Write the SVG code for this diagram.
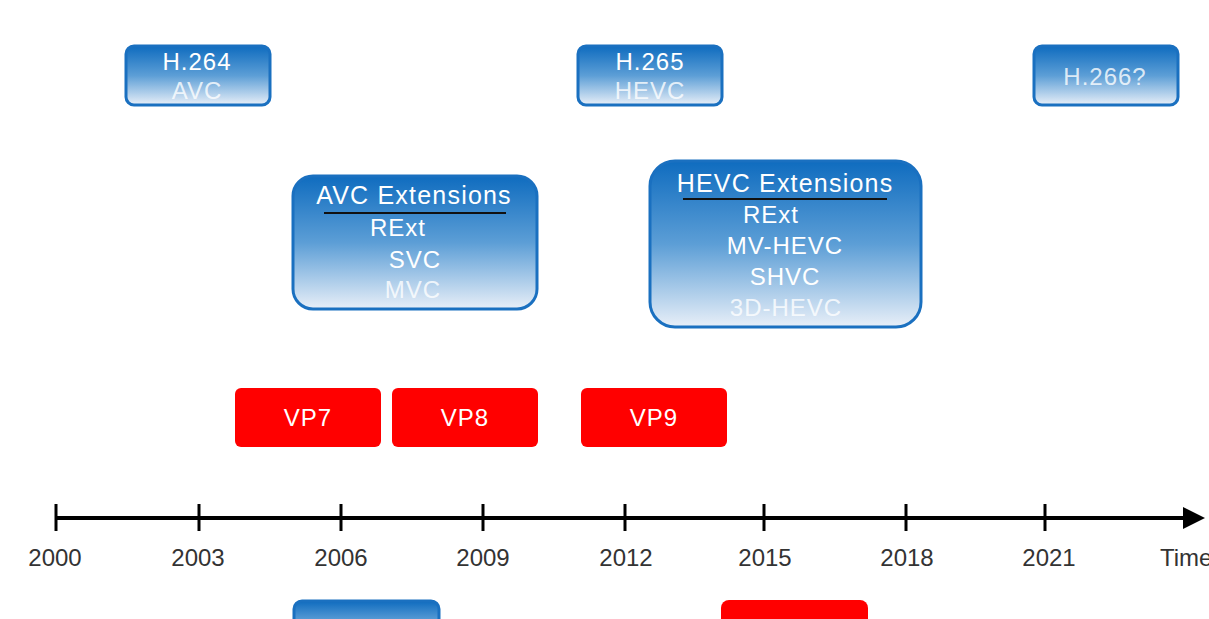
<svg xmlns="http://www.w3.org/2000/svg" width="1209" height="619" viewBox="0 0 1209 619">
<defs>
<linearGradient id="bg" x1="0" y1="0" x2="0" y2="1">
<stop offset="0" stop-color="#0f6cbf"/>
<stop offset="0.5" stop-color="#5c9ed6"/>
<stop offset="1" stop-color="#e8eff8"/>
</linearGradient>
</defs>
<style>
.b{fill:url(#bg);stroke:#1a70c0;stroke-width:3}
.r{fill:#ff0000}
text{font-family:"Liberation Sans",Arial,sans-serif}
.t{fill:#fff;font-size:24px;text-anchor:middle;letter-spacing:1px}
.h{font-size:25px;letter-spacing:1.2px}
.f{fill:#fff;fill-opacity:0.8}
.ax{fill:#333;font-size:24px;text-anchor:middle}
.st{text-anchor:start}
.tk{stroke:#000;stroke-width:3}
</style>
<rect width="1209" height="619" fill="#fff"/>
<g id="h264"><rect class="b" x="126" y="46" width="144" height="59" rx="8"/><text class="t" x="197" y="70">H.264</text><text class="t f" x="197" y="99">AVC</text></g>
<g id="h265"><rect class="b" x="578" y="46" width="144" height="59" rx="8"/><text class="t" x="650" y="70">H.265</text><text class="t f" x="650" y="99">HEVC</text></g>
<g id="h266"><rect class="b" x="1034" y="46" width="144" height="59" rx="8"/><text class="t f" x="1105" y="85">H.266?</text></g>
<g id="avcext"><rect class="b" x="293" y="176" width="244" height="133" rx="20"/>
<text class="t h" x="414" y="204">AVC Extensions</text>
<line x1="324" y1="213" x2="506" y2="213" stroke="#111" stroke-width="2"/>
<text class="t" x="398" y="236">RExt</text>
<text class="t" x="415" y="268">SVC</text>
<text class="t f" x="413" y="298">MVC</text></g>
<g id="hevcext"><rect class="b" x="650" y="161" width="271" height="166" rx="25"/>
<text class="t h" x="785" y="192">HEVC Extensions</text>
<line x1="683" y1="199" x2="887" y2="199" stroke="#111" stroke-width="2"/>
<text class="t" x="771" y="223">RExt</text>
<text class="t" x="785" y="254">MV-HEVC</text>
<text class="t" x="785" y="285">SHVC</text>
<text class="t f" x="786" y="316">3D-HEVC</text></g>
<g id="vp7"><rect class="r" x="235" y="388" width="146" height="59" rx="6"/><text class="t" x="308" y="426">VP7</text></g>
<g id="vp8"><rect class="r" x="392" y="388" width="146" height="59" rx="6"/><text class="t" x="465" y="426">VP8</text></g>
<g id="vp9"><rect class="r" x="581" y="388" width="146" height="59" rx="6"/><text class="t" x="654" y="426">VP9</text></g>
<g id="bottom-blue"><rect class="b" x="294" y="601" width="145" height="40" rx="8"/></g>
<g id="bottom-red"><rect class="r" x="721" y="600" width="147" height="40" rx="8"/></g>
<g id="connectors">
<line x1="55" y1="518" x2="1185" y2="518" stroke="#000" stroke-width="4"/>
<path d="M1183,507 L1205,518 L1183,529 z" fill="#000"/>
<line class="tk" x1="56" y1="504" x2="56" y2="531"/>
<line class="tk" x1="199" y1="504" x2="199" y2="531"/>
<line class="tk" x1="341" y1="504" x2="341" y2="531"/>
<line class="tk" x1="483" y1="504" x2="483" y2="531"/>
<line class="tk" x1="625" y1="504" x2="625" y2="531"/>
<line class="tk" x1="764" y1="504" x2="764" y2="531"/>
<line class="tk" x1="906" y1="504" x2="906" y2="531"/>
<line class="tk" x1="1045" y1="504" x2="1045" y2="531"/>
</g>
<g id="axis-labels">
<text class="ax" x="55" y="566">2000</text>
<text class="ax" x="198" y="566">2003</text>
<text class="ax" x="341" y="566">2006</text>
<text class="ax" x="483" y="566">2009</text>
<text class="ax" x="626" y="566">2012</text>
<text class="ax" x="765" y="566">2015</text>
<text class="ax" x="907" y="566">2018</text>
<text class="ax" x="1049" y="566">2021</text>
<text class="ax st" x="1160" y="566">Time</text>
</g>
</svg>
